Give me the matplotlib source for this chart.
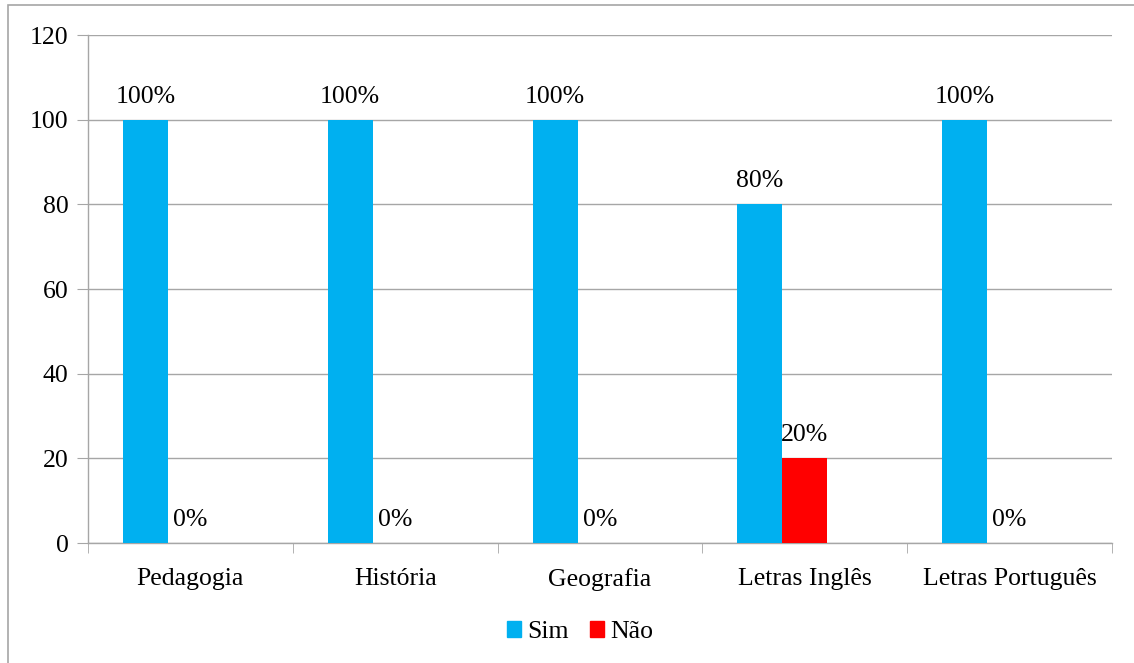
import numpy as np
import matplotlib.pyplot as plt
from matplotlib.patches import Rectangle

cursos = ['Pedagogia', 'História', 'Geografia', 'Letras Inglês', 'Letras Português']
sim = [100, 100, 100, 80, 100]
nao = [0, 0, 0, 20, 0]

AZUL = '#00B0F0'
VERMELHO = '#FF0000'
CINZA = '#A6A6A6'

plt.rcParams['font.family'] = 'serif'
plt.rcParams['font.serif'] = ['Liberation Serif', 'DejaVu Serif']
plt.rcParams['font.size'] = 18.5

fig = plt.figure(figsize=(11.34, 6.63), dpi=100)
ax = fig.add_axes([88/1134, 1-543/663, (1112-88)/1134, (543-35)/663])

# moldura externa
fig.patches.append(Rectangle((8/1134, -0.05), 1.2, 1-5/663+0.05, transform=fig.transFigure,
                             fill=False, edgecolor=CINZA, linewidth=1.2))

x = np.arange(len(cursos))
w = 0.2197
b1 = ax.bar(x - w, sim, w, color=AZUL, zorder=3)
b2 = ax.bar(x, nao, w, color=VERMELHO, zorder=3)

for rects, vals in ((b1, sim), (b2, nao)):
    for r, v in zip(rects, vals):
        ax.annotate(f'{v}%', (r.get_x() + r.get_width()/2, v), xytext=(0, 12),
                    textcoords='offset pixels', ha='center', va='bottom')

ax.set_xlim(-0.5, len(cursos) - 0.5)
ax.set_ylim(0, 120)
ax.set_yticks(range(0, 121, 20))
ax.yaxis.grid(True, color=CINZA, linewidth=1.0, zorder=0)
ax.set_xticks(x)
ax.set_xticklabels(cursos)
ax.set_xticks(np.arange(-0.5, len(cursos)), minor=True)
ax.tick_params(axis='x', which='major', length=0, pad=18)
ax.tick_params(axis='x', which='minor', length=7, color=CINZA, direction='out')
ax.tick_params(axis='y', length=8, color=CINZA, pad=6)

for s in ('top', 'right'):
    ax.spines[s].set_visible(False)
for s in ('left', 'bottom'):
    ax.spines[s].set_color(CINZA)
    ax.spines[s].set_linewidth(1.0)

handles = [Rectangle((0, 0), 1, 1, color=AZUL), Rectangle((0, 0), 1, 1, color=VERMELHO)]
fig.legend(handles, ['Sim', 'Não'], loc='center', bbox_to_anchor=(580/1134, 1-632/663),
           ncol=2, frameon=False, handlelength=0.55, handleheight=0.55,
           handletextpad=0.25, columnspacing=0.8)

fig.savefig('out.png', dpi=100)
